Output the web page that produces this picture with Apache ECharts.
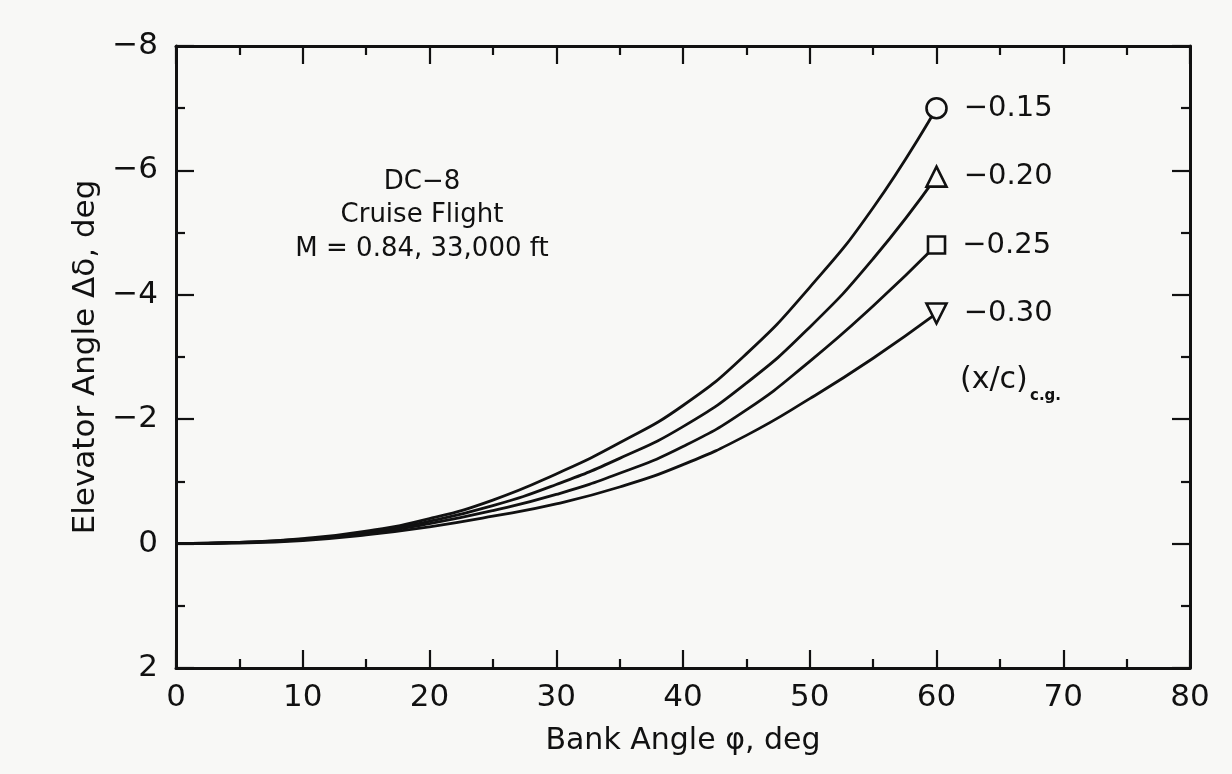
<!DOCTYPE html>
<html>
<head>
<meta charset="utf-8">
<script src="https://cdn.jsdelivr.net/npm/echarts@6/dist/echarts.min.js"></script>
<style>
html,body{margin:0;padding:0;background:#f8f8f6;}
#chart{width:1232px;height:774px;}
</style>
</head>
<body>
<div id="chart"></div>
<script>
// Data
var bankAngle = [0, 5, 10, 15, 20, 25, 30, 35, 40, 45, 50, 55, 60];
var cgLabels = ['-0.15', '-0.20', '-0.25', '-0.30'];
var cg015 = [0, -0.02, -0.08, -0.20, -0.40, -0.70, -1.12, -1.62, -2.22, -3.05, -4.12, -5.40, -7.0];
var cg020 = [0, -0.02, -0.07, -0.18, -0.36, -0.61, -0.95, -1.37, -1.88, -2.58, -3.48, -4.58, -5.9];
var cg025 = [0, -0.02, -0.06, -0.16, -0.32, -0.53, -0.79, -1.13, -1.56, -2.15, -2.93, -3.82, -4.8];
var cg030 = [0, -0.01, -0.05, -0.14, -0.27, -0.44, -0.64, -0.91, -1.27, -1.74, -2.33, -2.98, -3.7];
var xTicks = [0, 10, 20, 30, 40, 50, 60, 70, 80];
var yTicks = [-8, -6, -4, -2, 0, 2];

var FONT = '"DejaVu Sans", sans-serif';
var INK = '#111';
var BG = '#f8f8f6';
var seriesValues = [cg015, cg020, cg025, cg030];
var symbols = ['circle', 'triangle', 'rect', 'triangle'];
var symbolRot = [0, 0, 0, 180];
var symbolSizes = [20, 20, 17, 20];

function minus(s){ return String(s).replace('-', '\u2212'); }

var series = seriesValues.map(function(vals, si){
  return {
    type: 'line',
    name: cgLabels[si],
    smooth: 0.5,
    xAxisIndex: 0, yAxisIndex: 0,
    lineStyle: {color: INK, width: 2.8},
    itemStyle: {color: BG, borderColor: INK, borderWidth: 2.6},
    emphasis: {disabled: true},
    z: 3,
    data: vals.map(function(v, i){
      var last = i === vals.length - 1;
      return {
        value: [bankAngle[i], v],
        symbol: last ? symbols[si] : 'none',
        symbolSize: symbolSizes[si],
        symbolRotate: symbolRot[si],
        label: last ? {
          show: true, position: 'right', distance: 16,
          formatter: minus(cgLabels[si]),
          fontFamily: FONT, fontSize: 29, color: INK
        } : {show: false}
      };
    })
  };
});

function axisCommon(extra){
  var o = {
    type: 'value',
    axisLine: {show: true, onZero: false, lineStyle: {color: INK, width: 3}},
    axisTick: {show: true, inside: true, length: 18, lineStyle: {color: INK, width: 2.2}},
    minorTick: {show: true, splitNumber: 2, length: 9, lineStyle: {color: INK, width: 2.2}},
    splitLine: {show: false},
    minorSplitLine: {show: false}
  };
  for (var k in extra) o[k] = extra[k];
  return o;
}

var chart = echarts.init(document.getElementById('chart'));
chart.setOption({
  backgroundColor: BG,
  animation: false,
  grid: {left: 176, right: 42, top: 46, bottom: 106},
  xAxis: [
    axisCommon({min: 0, max: 80, interval: 10, position: 'bottom',
      axisLabel: {margin: 14, fontFamily: FONT, fontSize: 31, color: INK,
        formatter: function(v){ return xTicks.indexOf(v) >= 0 ? String(v) : ''; }},
      name: 'Bank Angle \u03c6, deg', nameLocation: 'middle', nameGap: 58,
      nameTextStyle: {fontFamily: FONT, fontSize: 30, color: INK}}),
    axisCommon({min: 0, max: 80, interval: 10, position: 'top', axisLabel: {show: false}})
  ],
  yAxis: [
    axisCommon({min: -8, max: 2, interval: 2, inverse: true, position: 'left',
      axisLabel: {margin: 18, fontFamily: FONT, fontSize: 31, color: INK,
        formatter: function(v){ return yTicks.indexOf(v) >= 0 ? minus(v) : ''; }},
      name: 'Elevator Angle \u0394\u03b4, deg', nameLocation: 'middle', nameGap: 45, nameRotate: 90,
      nameTextStyle: {fontFamily: FONT, fontSize: 31, color: INK}}),
    axisCommon({min: -8, max: 2, interval: 2, inverse: true, position: 'right', axisLabel: {show: false}})
  ],
  graphic: [
    {type: 'text', x: 422, y: 182, z: 10,
      style: {text: 'DC\u22128', align: 'center', verticalAlign: 'middle',
        font: '26px ' + FONT, fill: INK}},
    {type: 'text', x: 422, y: 215, z: 10,
      style: {text: 'Cruise Flight', align: 'center', verticalAlign: 'middle',
        font: '26px ' + FONT, fill: INK}},
    {type: 'text', x: 422, y: 249, z: 10,
      style: {text: 'M = 0.84, 33,000 ft', align: 'center', verticalAlign: 'middle',
        font: '26px ' + FONT, fill: INK}},
    {type: 'text', x: 960, y: 380, z: 10,
      style: {text: '(x/c)', align: 'left', verticalAlign: 'middle', font: '30px ' + FONT, fill: INK}},
    {type: 'text', x: 1030, y: 396, z: 10,
      style: {text: 'c.g.', align: 'left', verticalAlign: 'middle', font: 'bold 15px ' + FONT, fill: INK}}
  ],
  series: series
});
</script>
</body>
</html>
